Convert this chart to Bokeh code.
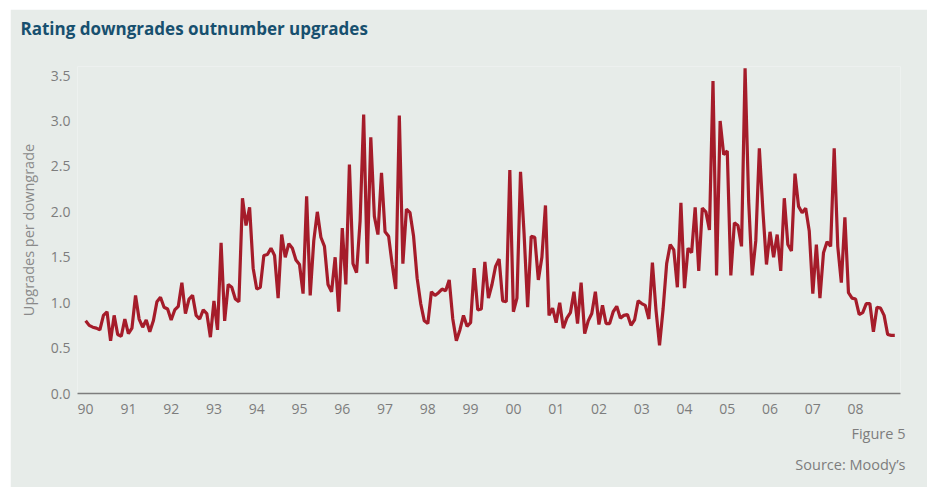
from bokeh.plotting import figure
from bokeh.models import Title, FixedTicker, ColumnDataSource
from bokeh.embed import file_html
from bokeh.resources import INLINE

start_year = 1990
ratio = [
    0.80, 0.75, 0.73, 0.72, 0.70, 0.86, 0.90, 0.58, 0.86, 0.65, 0.63, 0.82,
    0.66, 0.72, 1.08, 0.82, 0.73, 0.81, 0.68, 0.80, 1.01, 1.06, 0.95, 0.93,
    0.81, 0.92, 0.96, 1.22, 0.88, 1.04, 1.08, 0.86, 0.82, 0.92, 0.88, 0.62,
    1.02, 0.70, 1.66, 0.80, 1.20, 1.17, 1.04, 1.01, 2.15, 1.85, 2.05, 1.38,
    1.15, 1.17, 1.52, 1.53, 1.60, 1.52, 1.05, 1.75, 1.50, 1.65, 1.60, 1.47,
    1.42, 1.10, 2.17, 1.08, 1.68, 2.00, 1.72, 1.62, 1.20, 1.12, 1.50, 0.90,
    1.82, 1.20, 2.52, 1.43, 1.33, 1.90, 3.07, 1.43, 2.82, 1.95, 1.75, 2.43,
    1.78, 1.73, 1.42, 1.15, 3.06, 1.43, 2.03, 1.99, 1.73, 1.27, 0.99, 0.80,
    0.77, 1.12, 1.08, 1.11, 1.15, 1.13, 1.25, 0.82, 0.58, 0.70, 0.86, 0.74,
    0.78, 1.38, 0.92, 0.93, 1.45, 1.05, 1.20, 1.40, 1.48, 1.02, 1.01, 2.46,
    0.90, 1.05, 2.44, 1.76, 0.95, 1.73, 1.72, 1.25, 1.50, 2.07, 0.86, 0.94,
    0.78, 1.00, 0.72, 0.83, 0.89, 1.12, 0.77, 1.22, 0.66, 0.80, 0.88, 1.12,
    0.76, 0.97, 0.77, 0.77, 0.90, 0.96, 0.83, 0.86, 0.87, 0.75, 0.81, 1.02,
    0.99, 0.97, 0.82, 1.44, 0.92, 0.53, 0.93, 1.43, 1.64, 1.58, 1.17, 2.10,
    1.16, 1.60, 1.55, 2.05, 1.35, 2.04, 2.00, 1.80, 3.44, 1.30, 3.00, 2.63,
    2.67, 1.30, 1.88, 1.85, 1.62, 3.58, 2.12, 1.30, 1.68, 2.70, 2.01, 1.42,
    1.78, 1.50, 1.75, 1.35, 2.15, 1.64, 1.57, 2.42, 2.06, 1.99, 2.04, 1.79,
    1.10, 1.64, 1.05, 1.55, 1.67, 1.62, 2.70, 1.62, 1.22, 1.94, 1.11, 1.05,
    1.04, 0.87, 0.89, 0.99, 0.99, 0.68, 0.95, 0.94, 0.86, 0.65, 0.64, 0.64,
]
year_ticks = list(range(1990, 2009))
year_labels = ["90", "91", "92", "93", "94", "95", "96", "97", "98", "99",
               "00", "01", "02", "03", "04", "05", "06", "07", "08"]
y_ticks = [0.0, 0.5, 1.0, 1.5, 2.0, 2.5, 3.0, 3.5]

x_vals = [start_year + i / 12 for i in range(len(ratio))]
src = ColumnDataSource(dict(x=x_vals, y=ratio))

BG = "#E7ECE9"
FONT = "Open Sans"
GREY = "#7D7D7D"

p = figure(width=917, height=478, output_backend="svg", toolbar_location=None,
           x_range=(1989.81, 2009.05), y_range=(0, 3.6),
           background_fill_color=BG, border_fill_color=BG,
           min_border_left=67, min_border_right=27, min_border_top=56,
           min_border_bottom=94, outline_line_color=None,
           margin=(9, 0, 0, 10))

p.title.text = "Rating downgrades outnumber upgrades"
p.title.text_font = FONT
p.title.text_font_size = "17px"
p.title.text_font_style = "bold"
p.title.text_color = "#17506F"
p.title.align = "left"
p.title.offset = -57

top_gap = Title(text=" ", text_font_size="9px")
p.add_layout(top_gap, "above")

p.line("x", "y", source=src, line_color="#A51C2A", line_width=3.2)

p.grid.visible = False

p.xaxis.ticker = FixedTicker(ticks=year_ticks)
p.xaxis.major_label_overrides = {t: l for t, l in zip(year_ticks, year_labels)}
p.xaxis.axis_line_color = GREY
p.xaxis.axis_line_width = 1.5
p.xaxis.major_tick_line_color = None
p.xaxis.minor_tick_line_color = None
p.xaxis.major_label_text_font = FONT
p.xaxis.major_label_text_font_size = "14px"
p.xaxis.major_label_text_color = GREY
p.xaxis.major_label_standoff = 4

p.yaxis.ticker = FixedTicker(ticks=y_ticks)
p.yaxis.major_label_overrides = {t: f"{t:.1f}" for t in y_ticks}
p.yaxis.axis_line_color = None
p.yaxis.major_tick_line_color = None
p.yaxis.minor_tick_line_color = None
p.yaxis.major_label_text_font = FONT
p.yaxis.major_label_text_font_size = "14px"
p.yaxis.major_label_text_color = GREY
p.yaxis.major_label_standoff = 1
p.yaxis.axis_label = "Upgrades per downgrade"
p.yaxis.axis_label_text_font = FONT
p.yaxis.axis_label_text_font_size = "14.5px"
p.yaxis.axis_label_text_font_style = "normal"
p.yaxis.axis_label_text_color = "#8A8A8A"
p.yaxis.axis_label_standoff = 10

fig_note = Title(text="Figure 5", align="right", text_font=FONT,
                 text_font_size="14.5px", text_font_style="normal",
                 text_color=GREY, offset=-5, text_line_height=1.4)
src_note = Title(text="Source: Moody\u2019s", align="right", text_font=FONT,
                 text_font_size="14.5px", text_font_style="normal",
                 text_color=GREY, offset=-5)
p.add_layout(fig_note, "below")
p.add_layout(src_note, "below")

open("out.html", "w").write(file_html(p, INLINE))
